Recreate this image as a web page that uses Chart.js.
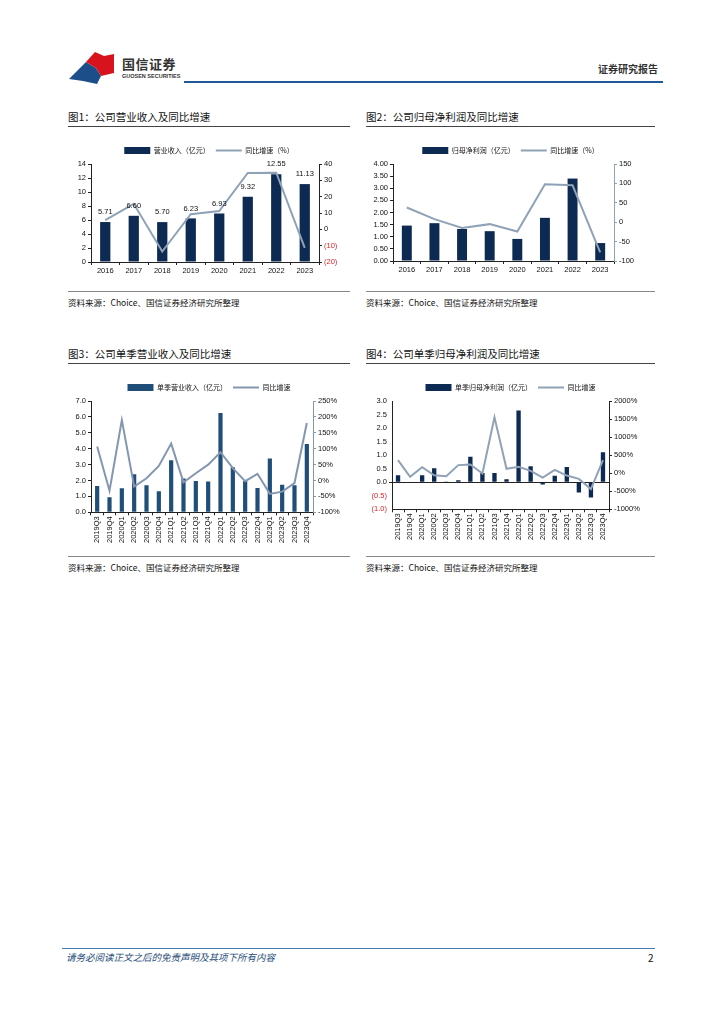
<!DOCTYPE html>
<html>
<head>
<meta charset="utf-8">
<script src="https://cdn.jsdelivr.net/npm/chart.js@4"></script>
<style>
  body { margin: 0; width: 724px; height: 1024px; background: #fff; position: relative; font-family: "Noto Sans CJK SC", "Liberation Sans", sans-serif; overflow: hidden; }
  .abs { position: absolute; }
  .title { font-size: 10.5px; color: #111; white-space: nowrap; }
  .rule { height: 1px; background: #444; }
  .srcline { height: 1px; background: #888; }
  .src { font-size: 8.5px; color: #111; white-space: nowrap; font-family: "Noto Sans CJK SC", "DejaVu Sans Mono", monospace; }
  canvas { position: absolute; }
</style>
</head>
<body>
<!-- header -->
<svg class="abs" style="left:66px;top:48px" width="50" height="40">
  <polygon points="3,31 20,14 30,20 35,28 31,36 17,33" fill="#1c4f8a"/>
  <polygon points="20,14 29,4 38,8 48,6 48,25 35,28 30,20" fill="#d7141d"/>
</svg>
<div class="abs" style="left:122px;top:54px;font-size:13px;font-weight:bold;color:#333;letter-spacing:0.5px">国信证券</div>
<div class="abs" style="left:122px;top:73px;font-size:5.5px;font-weight:bold;color:#333;font-family:'Liberation Sans'">GUOSEN SECURITIES</div>
<div class="abs" style="left:598px;top:61px;font-size:10px;font-weight:bold;color:#333">证券研究报告</div>
<div class="abs" style="left:184px;top:81px;width:479px;height:2px;background:#1f5a96"></div>

<!-- titles and sources -->
<div class="abs title" style="left:68px;top:109px">图1：公司营业收入及同比增速</div>
<div class="abs rule" style="left:68px;top:126px;width:282px"></div>
<div class="abs title" style="left:366px;top:109px">图2：公司归母净利润及同比增速</div>
<div class="abs rule" style="left:366px;top:126px;width:289px"></div>
<div class="abs srcline" style="left:68px;top:291px;width:282px"></div>
<div class="abs src" style="left:68px;top:296px">资料来源：Choice、国信证券经济研究所整理</div>
<div class="abs srcline" style="left:366px;top:291px;width:289px"></div>
<div class="abs src" style="left:366px;top:296px">资料来源：Choice、国信证券经济研究所整理</div>

<div class="abs title" style="left:68px;top:346px">图3：公司单季营业收入及同比增速</div>
<div class="abs rule" style="left:68px;top:363px;width:282px"></div>
<div class="abs title" style="left:366px;top:346px">图4：公司单季归母净利润及同比增速</div>
<div class="abs rule" style="left:366px;top:363px;width:289px"></div>
<div class="abs srcline" style="left:68px;top:556px;width:282px"></div>
<div class="abs src" style="left:68px;top:561px">资料来源：Choice、国信证券经济研究所整理</div>
<div class="abs srcline" style="left:366px;top:556px;width:289px"></div>
<div class="abs src" style="left:366px;top:561px">资料来源：Choice、国信证券经济研究所整理</div>

<canvas id="c1" style="left:68px;top:134px" width="282" height="148"></canvas>
<canvas id="c2" style="left:366px;top:134px" width="289" height="148"></canvas>
<canvas id="c3" style="left:68px;top:371px" width="282" height="180"></canvas>
<canvas id="c4" style="left:366px;top:371px" width="289" height="180"></canvas>

<!-- footer -->
<div class="abs" style="left:62px;top:948px;width:593px;height:1px;background:#4a7bb0"></div>
<div class="abs" style="left:66px;top:950px;font-size:9.5px;font-style:italic;color:#1f4e79">请务必阅读正文之后的免责声明及其项下所有内容</div>
<div class="abs" style="left:648px;top:950px;font-size:10px;color:#111">2</div>

<script>
// annual data
const years = ['2016', '2017', '2018', '2019', '2020', '2021', '2022', '2023'];
const revenue = [5.71, 6.60, 5.70, 6.23, 6.93, 9.32, 12.55, 11.13];
const revenueYoy = [5.7, 15.6, -13.6, 9.3, 11.2, 34.5, 34.7, -11.3];
const netProfit = [1.46, 1.56, 1.32, 1.23, 0.91, 1.78, 3.40, 0.74];
const netProfitYoy = [38, 8, -15, -5, -24, 98, 95, -78];

// quarterly data
const quarters = ['2019Q3', '2019Q4', '2020Q1', '2020Q2', '2020Q3', '2020Q4', '2021Q1', '2021Q2', '2021Q3',
  '2021Q4', '2022Q1', '2022Q2', '2022Q3', '2022Q4', '2023Q1', '2023Q2', '2023Q3', '2023Q4'];
const qRevenue = [1.65, 0.95, 1.52, 2.40, 1.70, 1.32, 3.28, 2.12, 1.97, 1.93, 6.25, 2.83, 1.97, 1.53, 3.38, 1.73, 1.70, 4.30];
const qRevenueYoy = [107, -32, 190, -19, 7, 46, 116, -6, 23, 50, 89, 39, -2, 21, -42, -35, -8, 181];
const qProfit = [0.26, -0.02, 0.26, 0.52, 0.01, 0.07, 0.94, 0.34, 0.34, 0.11, 2.65, 0.59, -0.08, 0.24, 0.56, -0.38, -0.56, 1.11];
const qProfitYoy = [363, -102, 168, -56, -84, 224, 242, -9, 1547, 121, 177, 65, -121, 93, -65, -158, -438, 363];

const NAVY = '#0d2a52';
const LINE = '#8fa2b6';
const RED = '#d9262b';
const tickFont = { family: 'Liberation Sans', size: 7.5 };
const legendFont = { family: 'Noto Sans CJK SC', size: 7 };

const paren = v => v < 0 ? '(' + Math.abs(v) + ')' : String(v);
const redNeg = c => (c.tick && c.tick.value < 0) ? RED : '#111';

// value labels over bars (chart 1)
const barLabels = {
  id: 'barLabels',
  afterDatasetsDraw(chart) {
    if (!chart.options.plugins.barLabels) return;
    const meta = chart.getDatasetMeta(0);
    const ctx = chart.ctx;
    ctx.save();
    ctx.font = '7.5px "Liberation Sans"';
    ctx.fillStyle = '#111';
    ctx.textAlign = 'center';
    ctx.textBaseline = 'bottom';
    meta.data.forEach((bar, i) => {
      ctx.fillText(chart.data.datasets[0].data[i].toFixed(2), bar.x, bar.y - 6);
    });
    ctx.restore();
  }
};
Chart.register(barLabels);

function xAxis(rotate) {
  return {
    offset: true,
    grid: { display: true, drawOnChartArea: false, offset: true, tickLength: 3, color: '#222' },
    border: { color: '#222' },
    ticks: { font: tickFont, color: '#111', autoSkip: false, maxRotation: rotate ? 90 : 0, minRotation: rotate ? 90 : 0, padding: 1 }
  };
}

function yAxis(pos, min, max, step, fmt, colorFn, borderColor, width) {
  return {
    position: pos, min: min, max: max,
    afterFit: s => { s.width = width; },
    grid: { display: true, drawOnChartArea: false, tickLength: 3, color: borderColor },
    border: { color: borderColor },
    ticks: { stepSize: step, font: tickFont, color: colorFn || '#111', callback: fmt, padding: 2 }
  };
}

function legendOpts() {
  return {
    display: true,
    position: 'top',
    labels: { font: legendFont, color: '#111', usePointStyle: true, pointStyleWidth: 26, boxHeight: 8, padding: 6,
      sort: (a, b) => a.datasetIndex - b.datasetIndex }
  };
}

function makeChart(id, labels, bars, barLabel, barColor, barPct, line, lineLabel, lineColor, yl, yr, rotate, extra) {
  return new Chart(document.getElementById(id), {
    type: 'bar',
    data: {
      labels: labels,
      datasets: [
        { type: 'bar', label: barLabel, data: bars, backgroundColor: barColor, yAxisID: 'y',
          barPercentage: barPct, categoryPercentage: 1, pointStyle: 'rect', order: 2 },
        { type: 'line', label: lineLabel, data: line, borderColor: lineColor, backgroundColor: lineColor,
          borderWidth: 2, pointRadius: 0, pointStyle: 'line', yAxisID: 'y1', tension: 0, order: 1 }
      ]
    },
    options: {
      responsive: false,
      animation: false,
      layout: { padding: extra.padding },
      plugins: { legend: legendOpts(), tooltip: { enabled: false }, barLabels: extra.barLabels || false },
      scales: { x: xAxis(rotate), y: yl, y1: yr }
    }
  });
}

// chart 1
makeChart('c1', years, revenue, '营业收入（亿元）', NAVY, 0.36, revenueYoy, '同比增速（%）', LINE,
  yAxis('left', 0, 14, 2, v => v, '#111', '#222', 23),
  yAxis('right', -20, 40, 10, paren, redNeg, '#222', 31),
  false, { padding: { top: 7, bottom: 6 }, barLabels: true });

// chart 2
makeChart('c2', years, netProfit, '归母净利润（亿元）', NAVY, 0.36, netProfitYoy, '同比增速（%）', LINE,
  yAxis('left', 0, 4, 0.5, v => v.toFixed(2), '#111', '#222', 27),
  yAxis('right', -100, 150, 50, v => v, '#111', LINE, 41),
  false, { padding: { top: 7, bottom: 7 } });

// chart 3
makeChart('c3', quarters, qRevenue, '单季营业收入（亿元）', '#1f4e79', 0.34, qRevenueYoy, '同比增速', '#8497b0',
  yAxis('left', 0, 7, 1, v => v.toFixed(1), '#111', '#222', 23),
  yAxis('right', -100, 250, 50, v => v + '%', '#111', '#8497b0', 37),
  true, { padding: { top: 7, bottom: 7 } });

// chart 4
const c4y = yAxis('left', -1, 3, 0.5, v => v < 0 ? '(' + Math.abs(v).toFixed(1) + ')' : v.toFixed(1), redNeg, '#222', 26);
c4y.grid = { display: true, drawOnChartArea: true, tickLength: 3,
  color: c => (c.tick && c.tick.value === 0) ? '#222' : 'rgba(0,0,0,0)' };
makeChart('c4', quarters, qProfit, '单季归母净利润（亿元）', NAVY, 0.36, qProfitYoy, '同比增速', LINE,
  c4y,
  yAxis('right', -1000, 2000, 500, v => v + '%', '#111', '#222', 46),
  true, { padding: { top: 7, bottom: 10 } });
</script>
</body>
</html>
